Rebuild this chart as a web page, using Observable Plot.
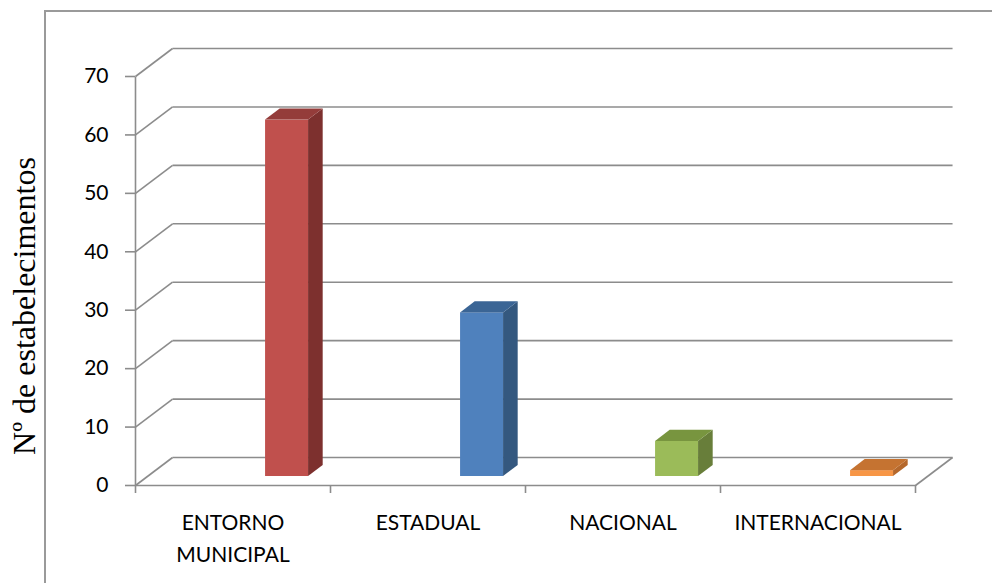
<!DOCTYPE html>
<html>
<head>
<meta charset="utf-8">
<script src="https://cdn.jsdelivr.net/npm/d3@7"></script>
<script src="https://cdn.jsdelivr.net/npm/@observablehq/plot@0.6"></script>
<style>
  html, body { margin: 0; padding: 0; background: #fff; }
  #wrap { position: relative; width: 992px; height: 583px; overflow: hidden; }
  #border { position: absolute; left: 44px; top: 10px; width: 960px; height: 600px;
            border-left: 2px solid #9a9a9a; border-top: 2px solid #9a9a9a; }
  #chart { position: absolute; left: 0; top: 0; }
</style>
</head>
<body>
<div id="wrap"><div id="border"></div><div id="chart"></div></div>
<script>
// ---- data ----
const categories = ["ENTORNO MUNICIPAL", "ESTADUAL", "NACIONAL", "INTERNACIONAL"];
const categoryLabels = ["ENTORNO\nMUNICIPAL", "ESTADUAL", "NACIONAL", "INTERNACIONAL"];
const values = [61, 28, 6, 1];
const yTicks = [0, 10, 20, 30, 40, 50, 60, 70];
const yLabel = "Nº de estabelecimentos";

// ---- colours (front, side, top) ----
const frontColors = ["#C0504D", "#4F81BD", "#9BBB59", "#F79646"];
const sideColors  = ["#7D302E", "#34587F", "#687E3A", "#B5682C"];
const topColors   = ["#943C3A", "#3B6595", "#78953F", "#C57331"];

// ---- 3D geometry (in data units) ----
const WALL_DX = 0.19, WALL_DY = 4.79;      // depth of back wall
const BAR_L = 0.667, BAR_W = 0.2205;        // bar position inside category band
const BAR_DX = 0.075, BAR_DY = 1.9;         // bar depth
const LIFT = 1.54;                          // bar floor (mid-depth)

const n = categories.length;
const bars = categories.map((c, i) => ({
  c, i, v: values[i],
  xl: i + BAR_L, xr: i + BAR_L + BAR_W,
  b: LIFT, t: values[i] + LIFT
}));
const sidePts = bars.flatMap(d => [
  {c: d.c, i: d.i, x: d.xr, y1: d.b, y2: d.t},
  {c: d.c, i: d.i, x: d.xr + BAR_DX, y1: d.b + BAR_DY, y2: d.t + BAR_DY}
]);
const topPts = bars.flatMap(d => [
  {c: d.c, i: d.i, x: d.xl, y1: d.t, y2: d.t},
  {c: d.c, i: d.i, x: d.xl + BAR_DX, y1: d.t, y2: d.t + BAR_DY},
  {c: d.c, i: d.i, x: d.xr, y1: d.t, y2: d.t + BAR_DY},
  {c: d.c, i: d.i, x: d.xr + BAR_DX, y1: d.t + BAR_DY, y2: d.t + BAR_DY}
]);
const bounds = d3.range(n + 1);
const grid = "#8c8c8c";

const chart = Plot.plot({
  width: 992, height: 583,
  marginLeft: 135, marginRight: 77, marginTop: 76, marginBottom: 98,
  x: {type: "linear", domain: [0, n]},
  y: {domain: [0, 70]},
  style: {fontFamily: "Lato, 'Open Sans', sans-serif", fontSize: "21px", color: "#000", background: "transparent"},
  marks: [
    // back wall gridlines
    Plot.link(yTicks, {x1: () => WALL_DX, x2: () => n + WALL_DX, y1: d => d + WALL_DY, y2: d => d + WALL_DY, stroke: grid, strokeWidth: 1.6}),
    // side wall diagonals
    Plot.link(yTicks, {x1: () => 0, y1: d => d, x2: () => WALL_DX, y2: d => d + WALL_DY, stroke: grid, strokeWidth: 1.6}),
    // floor front edge and right diagonal
    Plot.link([0], {x1: () => 0, x2: () => n, y1: d => d, y2: d => d, stroke: grid, strokeWidth: 1.6}),
    Plot.link([n], {x1: d => d, y1: () => 0, x2: d => d + WALL_DX, y2: () => WALL_DY, stroke: grid, strokeWidth: 1.6}),
    // vertical axis line
    Plot.link([0], {x1: d => d, x2: d => d, y1: () => 0, y2: () => 70, stroke: grid, strokeWidth: 1.6}),
    Plot.axisY(yTicks, {tickSize: 10, tickPadding: 17, stroke: grid, strokeWidth: 1.6, fill: "#000", fontSize: 21}),
    Plot.axisX(bounds, {tickSize: 8, tickFormat: () => "", stroke: grid, strokeWidth: 1.6}),
    // bars: front, side, top
    Plot.rect(bars, {x1: "xl", x2: "xr", y1: "b", y2: "t", fill: d => frontColors[d.i]}),
    Plot.areaY(sidePts, {x: "x", y1: "y1", y2: "y2", z: "c", fill: d => sideColors[d.i]}),
    Plot.areaY(topPts, {x: "x", y1: "y1", y2: "y2", z: "c", fill: d => topColors[d.i]}),
    // category labels
    Plot.text(categoryLabels, {x: (d, i) => i + 0.5, y: () => 0, dy: 22, lineAnchor: "top", lineHeight: 1.52, fontSize: 21, fill: "#000"}),
    // y axis label
    Plot.text([yLabel], {frameAnchor: "left", textAnchor: "middle", rotate: -90, dx: -111, dy: 25, fontFamily: "'Liberation Serif', serif", fontSize: 32, fill: "#000"})
  ]
});
document.getElementById("chart").append(chart);
</script>
</body>
</html>
